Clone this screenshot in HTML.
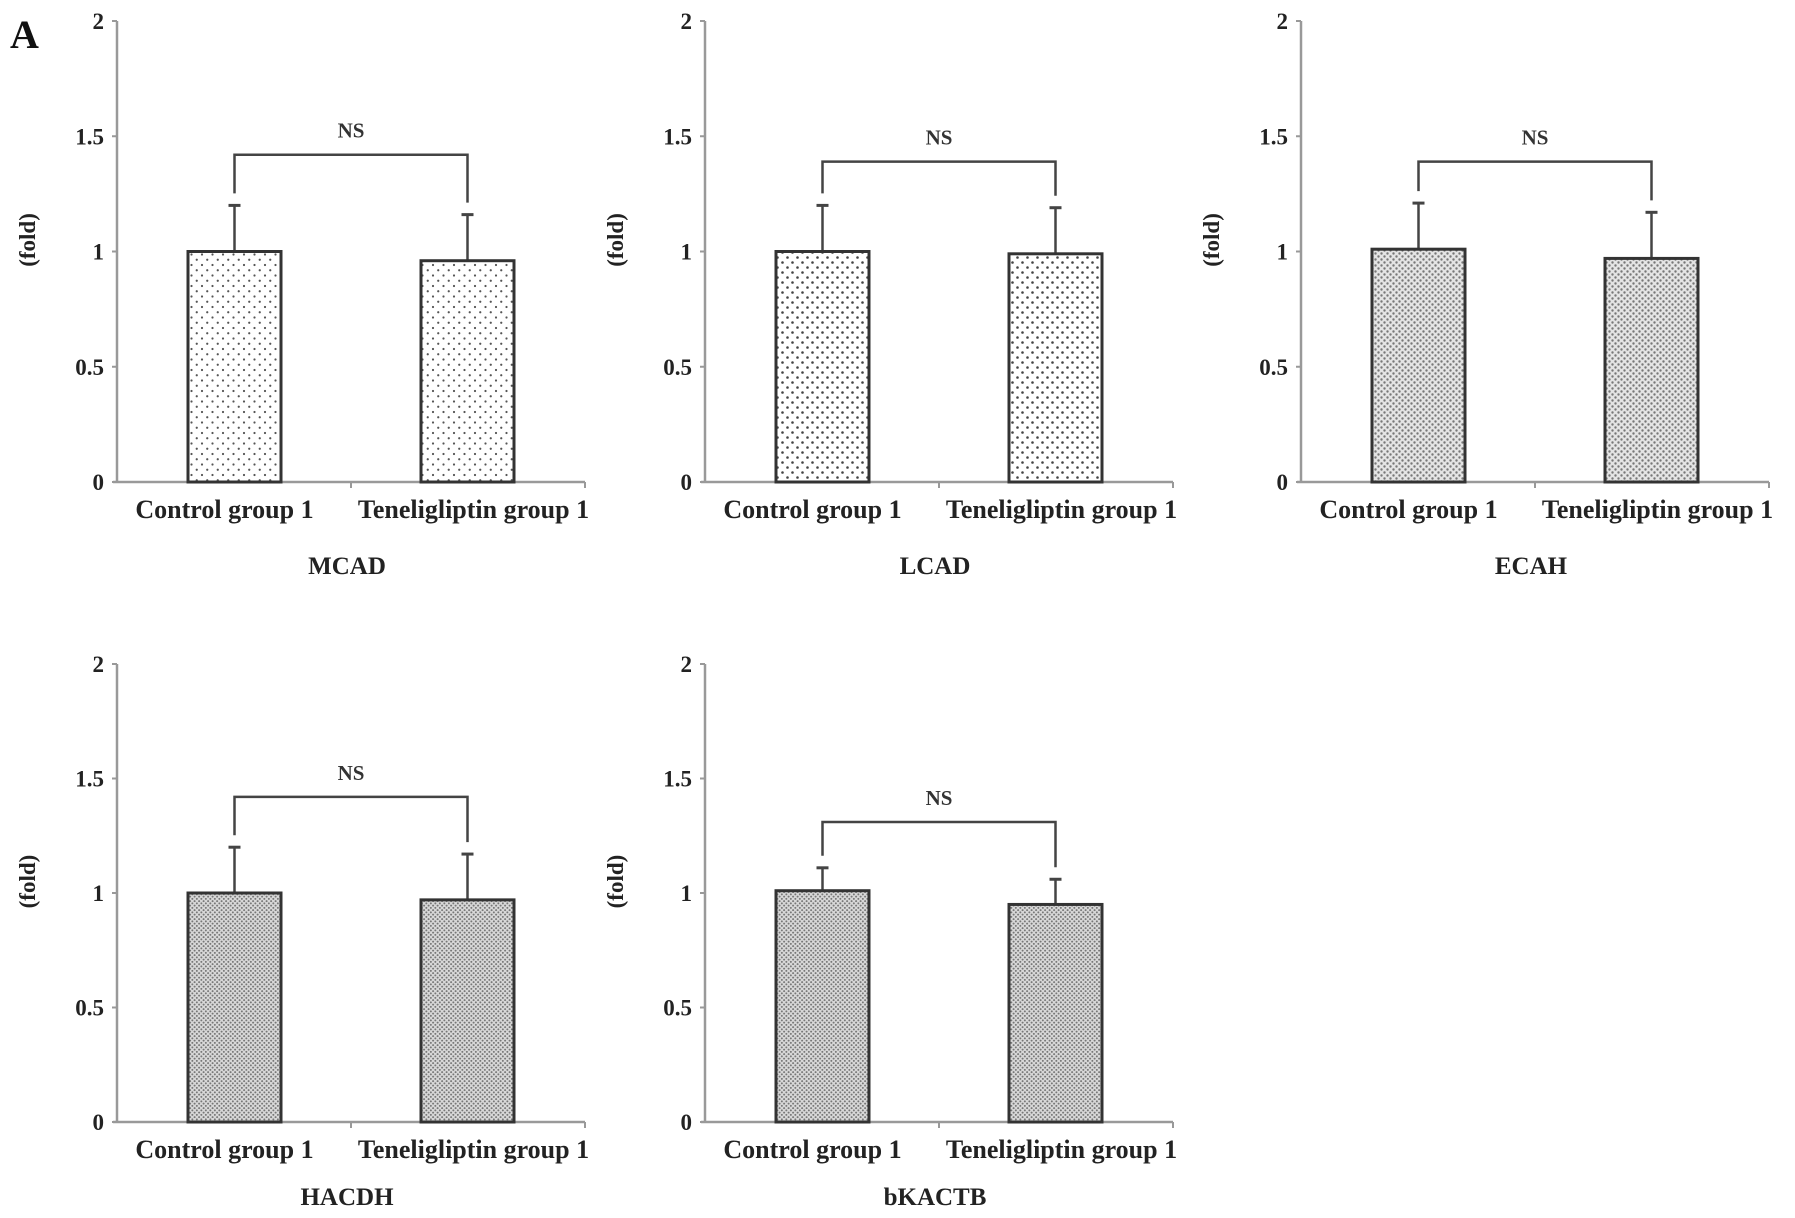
<!DOCTYPE html>
<html><head><meta charset="utf-8"><style>
html,body{margin:0;padding:0;background:#fff;}
svg{display:block;font-family:"Liberation Serif",serif;font-weight:bold;}
</style></head><body>
<svg id="fig" width="1795" height="1218" viewBox="0 0 1795 1218">
<defs>
<pattern id="sparse" width="10.5" height="10.5" patternUnits="userSpaceOnUse"><rect width="10.5" height="10.5" fill="#fff"/><circle cx="2.5" cy="2.5" r="1.1" fill="#555"/><circle cx="7.75" cy="7.75" r="1.1" fill="#555"/></pattern>
<pattern id="medium" width="10" height="10" patternUnits="userSpaceOnUse"><rect width="10" height="10" fill="#fff"/><circle cx="2.5" cy="2.5" r="1.3" fill="#444"/><circle cx="7.5" cy="7.5" r="1.3" fill="#444"/></pattern>
<pattern id="dense" width="6" height="6" patternUnits="userSpaceOnUse"><rect width="6" height="6" fill="#e4e4e4"/><circle cx="1.5" cy="1.5" r="1.2" fill="#777"/><circle cx="4.5" cy="4.5" r="1.2" fill="#777"/></pattern>
<pattern id="verydense" width="4.5" height="4.5" patternUnits="userSpaceOnUse"><rect width="4.5" height="4.5" fill="#d8d8d8"/><circle cx="1.1" cy="1.1" r="1" fill="#777"/><circle cx="3.35" cy="3.35" r="1" fill="#777"/></pattern>
</defs>
<text x="10" y="48" font-size="40" fill="#111">A</text>
</svg>
<script>
const titles = ["MCAD","LCAD","ECAH","HACDH","bKACTB"];
const categories = ["Control group 1","Teneligliptin group 1"];
const meanValues = [[1.0,0.96],[1.0,0.99],[1.01,0.97],[1.0,0.97],[1.01,0.95]];
const errorTops = [[1.2,1.16],[1.2,1.19],[1.21,1.17],[1.2,1.17],[1.11,1.06]];
const bracketLevels = [1.42,1.39,1.39,1.42,1.31];
const yTicks = [0,0.5,1,1.5,2];
const yTickLabels = ["0","0.5","1","1.5","2"];

const panels = [
  {ax:117, y0:482, y2:21, pat:"sparse"},
  {ax:705, y0:482, y2:21, pat:"medium"},
  {ax:1301, y0:482, y2:21, pat:"dense"},
  {ax:117, y0:1122, y2:664, pat:"verydense"},
  {ax:705, y0:1122, y2:664, pat:"verydense"}
];
const NS = "http://www.w3.org/2000/svg";
const svg = document.getElementById('fig');
function el(tag, attrs, parent){
  const e = document.createElementNS(NS, tag);
  for (const k in attrs) e.setAttribute(k, attrs[k]);
  (parent||svg).appendChild(e);
  return e;
}
panels.forEach((p, i) => {
  const g = el('g', {});
  
  
  const yS = v => p.y0 - (p.y0 - p.y2) * v / 2;
  const xLeft = [p.ax + 71, p.ax + 304];
  const bw = 93;
  const xEnd = p.ax + 468;
  const ya = el('line', {x1:p.ax, y1:p.y2, x2:p.ax, y2:p.y0, stroke:'#999', 'stroke-width':2.5}, g);
  
  
  const xa = el('line', {x1:p.ax-4, y1:p.y0, x2:xEnd, y2:p.y0, stroke:'#999', 'stroke-width':2.5}, g);
  
  
  el('line', {x1:xEnd, y1:p.y0, x2:xEnd, y2:p.y0+6, stroke:'#999', 'stroke-width':2}, g);
  el('line', {x1:(p.ax+xEnd)/2, y1:p.y0, x2:(p.ax+xEnd)/2, y2:p.y0+6, stroke:'#999', 'stroke-width':2}, g);
  yTicks.forEach((t, k) => {
    el('line', {x1:p.ax-5, y1:yS(t), x2:p.ax, y2:yS(t), stroke:'#999', 'stroke-width':2}, g);
    const tl = el('text', {x:p.ax-13, y:yS(t)+8, 'font-size':23, 'text-anchor':'end', fill:'#222'}, g);
    tl.textContent = yTickLabels[k];
    
    
  });
  const yt = el('text', {x:0, y:0, 'font-size':23, 'text-anchor':'middle', fill:'#222', transform:`translate(${p.ax-82},${yS(1.05)}) rotate(-90)`}, g);
  yt.textContent = '(fold)';
  
  
  const centers = [];
  categories.forEach((c, j) => {
    const x = xLeft[j], cx = x + bw/2;
    centers.push(cx);
    const top = yS(meanValues[i][j]);
    const eb = el('line', {x1:cx, y1:yS(errorTops[i][j]), x2:cx, y2:top, stroke:'#444', 'stroke-width':2.5}, g);
    
    
    el('line', {x1:cx-6, y1:yS(errorTops[i][j]), x2:cx+6, y2:yS(errorTops[i][j]), stroke:'#444', 'stroke-width':3}, g);
    const r = el('rect', {x:x, y:top, width:bw, height:p.y0-top, fill:`url(#${p.pat})`, stroke:'#333', 'stroke-width':3}, g);
    
    
    const cl = el('text', {x:cx + (j===0?-10:6), y:p.y0+36, 'font-size':26, 'text-anchor':'middle', fill:'#222'}, g);
    cl.textContent = c;
    
    
  });
  const by = yS(bracketLevels[i]);
  const br = el('path', {d:`M${centers[0]},${yS(errorTops[i][0])-12} V${by} H${centers[1]} V${yS(errorTops[i][1])-12}`, fill:'none', stroke:'#444', 'stroke-width':2.5}, g);
  
  
  const ns = el('text', {x:(centers[0]+centers[1])/2, y:by-17, 'font-size':21, 'text-anchor':'middle', fill:'#333'}, g);
  ns.textContent = 'NS';
  
  
  const tt = el('text', {x:(centers[0]+centers[1])/2 - 4, y:p.y0+(i<3?92:83), 'font-size':25, 'text-anchor':'middle', fill:'#222'}, g);
  tt.textContent = titles[i];
  
  
});
</script>
</body></html>
